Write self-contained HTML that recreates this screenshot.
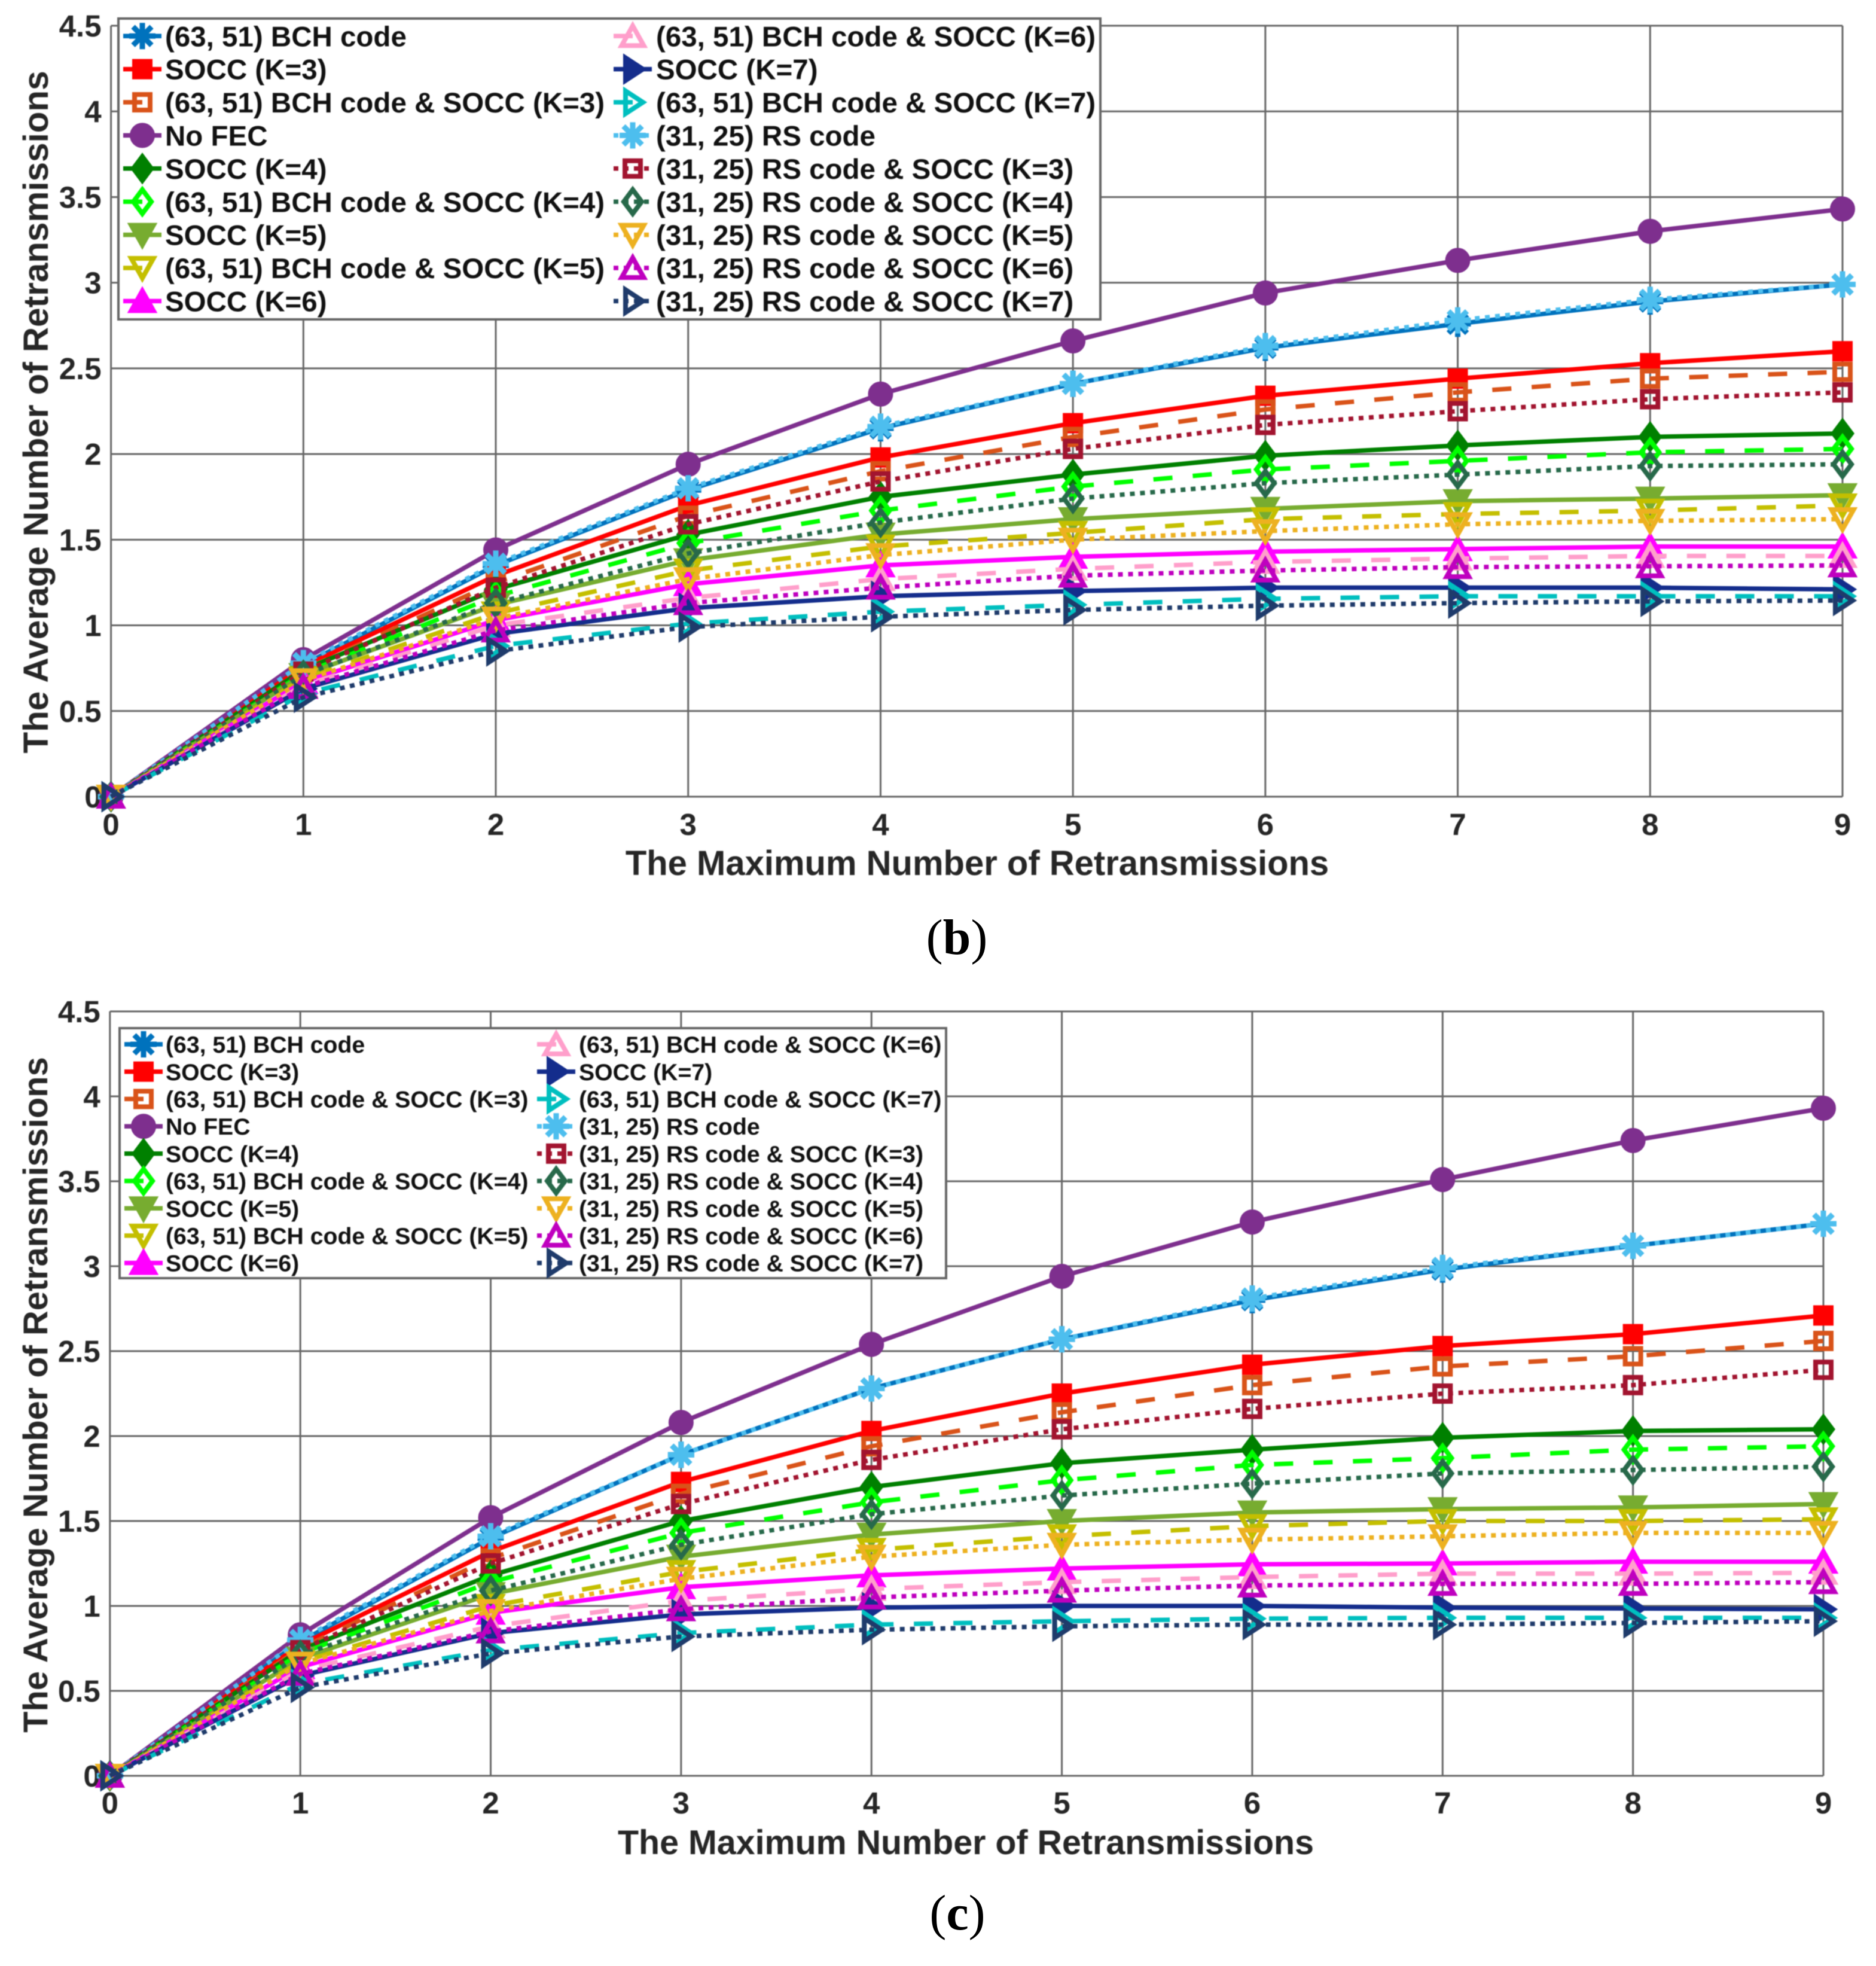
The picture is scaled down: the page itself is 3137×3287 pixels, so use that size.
<!DOCTYPE html>
<html lang="en">
<head>
<meta charset="utf-8">
<title>Average Number of Retransmissions vs Maximum Number of Retransmissions</title>
<style>
html,body{margin:0;padding:0;background:#fff;width:3137px;height:3287px;overflow:hidden}
svg{display:block}
text{font-family:"Liberation Sans",sans-serif}
.tick{font-size:51px;font-weight:700;fill:#262626}
.title{font-weight:700;fill:#262626}
.caption{font-family:"Liberation Serif",serif;font-size:84px;fill:#000}
.soft{filter:blur(.9px)}
</style>
</head>
<body>
<svg id="figure" xmlns="http://www.w3.org/2000/svg" width="3137" height="3287" viewBox="0 0 3137 3287">
  <rect width="3137" height="3287" fill="#fff"/>
  <g id="panel-b" class="soft"></g>
  <text class="caption" x="1600" y="1595" text-anchor="middle">(<tspan font-weight="700">b</tspan>)</text>
  <g id="panel-c" class="soft"></g>
  <text class="caption" x="1601" y="3226" text-anchor="middle">(<tspan font-weight="700">c</tspan>)</text>
</svg>
<script>
const retransmissions = [0, 1, 2, 3, 4, 5, 6, 7, 8, 9];
const yTicks = [0, 0.5, 1, 1.5, 2, 2.5, 3, 3.5, 4, 4.5];
const yTickLabels = ['0', '0.5', '1', '1.5', '2', '2.5', '3', '3.5', '4', '4.5'];
const seriesNames = [
  '(63, 51) BCH code', 'SOCC (K=3)', '(63, 51) BCH code & SOCC (K=3)', 'No FEC', 'SOCC (K=4)',
  '(63, 51) BCH code & SOCC (K=4)', 'SOCC (K=5)', '(63, 51) BCH code & SOCC (K=5)', 'SOCC (K=6)',
  '(63, 51) BCH code & SOCC (K=6)', 'SOCC (K=7)', '(63, 51) BCH code & SOCC (K=7)', '(31, 25) RS code',
  '(31, 25) RS code & SOCC (K=3)', '(31, 25) RS code & SOCC (K=4)', '(31, 25) RS code & SOCC (K=5)',
  '(31, 25) RS code & SOCC (K=6)', '(31, 25) RS code & SOCC (K=7)'
];

/* Panel (b) values */
const bBch       = [0, .77, 1.35, 1.79, 2.15, 2.41, 2.62, 2.76, 2.89, 2.99];
const bSocc3     = [0, .76, 1.29, 1.70, 1.98, 2.18, 2.34, 2.44, 2.53, 2.60];
const bBchSocc3  = [0, .74, 1.25, 1.64, 1.90, 2.10, 2.26, 2.36, 2.44, 2.48];
const bNoFec     = [0, .80, 1.44, 1.94, 2.35, 2.66, 2.94, 3.13, 3.30, 3.43];
const bSocc4     = [0, .74, 1.21, 1.53, 1.75, 1.88, 1.99, 2.05, 2.10, 2.12];
const bBchSocc4  = [0, .72, 1.17, 1.48, 1.67, 1.81, 1.91, 1.96, 2.01, 2.03];
const bSocc5     = [0, .71, 1.12, 1.38, 1.53, 1.62, 1.68, 1.725, 1.74, 1.76];
const bBchSocc5  = [0, .69, 1.07, 1.32, 1.46, 1.54, 1.62, 1.65, 1.67, 1.70];
const bSocc6     = [0, .67, 1.03, 1.24, 1.35, 1.40, 1.43, 1.445, 1.46, 1.46];
const bBchSocc6  = [0, .65, 1.00, 1.16, 1.27, 1.33, 1.37, 1.39, 1.405, 1.405];
const bSocc7     = [0, .63, .95, 1.10, 1.17, 1.20, 1.22, 1.22, 1.22, 1.21];
const bBchSocc7  = [0, .60, .88, 1.01, 1.08, 1.12, 1.155, 1.17, 1.17, 1.17];
const bRs        = [0, .78, 1.36, 1.80, 2.16, 2.41, 2.63, 2.78, 2.90, 2.99];
const bRsSocc3   = [0, .73, 1.22, 1.59, 1.84, 2.03, 2.17, 2.25, 2.32, 2.36];
const bRsSocc4   = [0, .71, 1.13, 1.42, 1.60, 1.74, 1.83, 1.88, 1.93, 1.94];
const bRsSocc5   = [0, .68, 1.04, 1.27, 1.41, 1.50, 1.55, 1.59, 1.61, 1.62];
const bRsSocc6   = [0, .64, .97, 1.13, 1.22, 1.29, 1.32, 1.34, 1.345, 1.35];
const bRsSocc7   = [0, .58, .85, .99, 1.05, 1.09, 1.115, 1.13, 1.14, 1.145];

/* Panel (c) values */
const cBch       = [0, .79, 1.40, 1.89, 2.28, 2.57, 2.80, 2.98, 3.12, 3.25];
const cSocc3     = [0, .77, 1.32, 1.73, 2.03, 2.25, 2.42, 2.53, 2.60, 2.71];
const cBchSocc3  = [0, .75, 1.28, 1.66, 1.94, 2.14, 2.30, 2.41, 2.47, 2.56];
const cNoFec     = [0, .83, 1.52, 2.08, 2.54, 2.94, 3.26, 3.51, 3.74, 3.93];
const cSocc4     = [0, .74, 1.18, 1.50, 1.70, 1.84, 1.92, 1.99, 2.03, 2.04];
const cBchSocc4  = [0, .72, 1.14, 1.43, 1.61, 1.74, 1.83, 1.87, 1.92, 1.94];
const cSocc5     = [0, .69, 1.07, 1.29, 1.42, 1.50, 1.55, 1.57, 1.58, 1.60];
const cBchSocc5  = [0, .67, 1.00, 1.20, 1.33, 1.41, 1.47, 1.50, 1.50, 1.51];
const cSocc6     = [0, .64, .96, 1.11, 1.18, 1.22, 1.245, 1.25, 1.26, 1.26];
const cBchSocc6  = [0, .62, .88, 1.03, 1.10, 1.14, 1.17, 1.19, 1.19, 1.195];
const cSocc7     = [0, .59, .84, .95, .99, 1.00, 1.00, .99, .985, .98];
const cBchSocc7  = [0, .54, .74, .84, .89, .91, .925, .93, .93, .93];
const cRs        = [0, .80, 1.41, 1.89, 2.28, 2.57, 2.81, 2.99, 3.12, 3.25];
const cRsSocc3   = [0, .74, 1.25, 1.60, 1.86, 2.04, 2.16, 2.25, 2.30, 2.39];
const cRsSocc4   = [0, .71, 1.09, 1.36, 1.54, 1.65, 1.72, 1.78, 1.80, 1.82];
const cRsSocc5   = [0, .66, .97, 1.16, 1.29, 1.36, 1.39, 1.41, 1.43, 1.43];
const cRsSocc6   = [0, .60, .85, .98, 1.05, 1.09, 1.12, 1.13, 1.13, 1.14];
const cRsSocc7   = [0, .52, .72, .82, .86, .88, .89, .89, .90, .91];

const panelBValues = [bBch, bSocc3, bBchSocc3, bNoFec, bSocc4, bBchSocc4, bSocc5, bBchSocc5, bSocc6, bBchSocc6, bSocc7, bBchSocc7, bRs, bRsSocc3, bRsSocc4, bRsSocc5, bRsSocc6, bRsSocc7];
const panelCValues = [cBch, cSocc3, cBchSocc3, cNoFec, cSocc4, cBchSocc4, cSocc5, cBchSocc5, cSocc6, cBchSocc6, cSocc7, cBchSocc7, cRs, cRsSocc3, cRsSocc4, cRsSocc5, cRsSocc6, cRsSocc7];

const NS = 'http://www.w3.org/2000/svg';
const seriesStyle = [
  {c:'#0072BD', d:'solid',  m:'star',  f:1},
  {c:'#FF0000', d:'solid',  m:'square',f:1},
  {c:'#D95319', d:'dash',   m:'square',f:0},
  {c:'#7E2F8E', d:'solid',  m:'circle',f:1},
  {c:'#008000', d:'solid',  m:'diamond',f:1},
  {c:'#00FF00', d:'dash',   m:'diamond',f:0},
  {c:'#77AC30', d:'solid',  m:'down',  f:1},
  {c:'#C4BF00', d:'dash',   m:'down',  f:0},
  {c:'#FF00FF', d:'solid',  m:'up',    f:1},
  {c:'#FF9FCB', d:'dash',   m:'up',    f:0},
  {c:'#142D8C', d:'solid',  m:'right', f:1},
  {c:'#00BFBF', d:'dash',   m:'right', f:0},
  {c:'#4DBEEE', d:'dot',    m:'star',  f:1},
  {c:'#A2142F', d:'dot',    m:'square',f:0},
  {c:'#27694A', d:'dot',    m:'diamond',f:0},
  {c:'#EDB120', d:'dot',    m:'down',  f:0},
  {c:'#BF00BF', d:'dot',    m:'up',    f:0},
  {c:'#1F3B6B', d:'dot',    m:'right', f:0}
];
const dashes = {solid:'', dash:'32 34', dot:'8 9'};

function slug(s){return s.toLowerCase().replace(/[^a-z0-9]+/g,'-').replace(/^-|-$/g,'');}

function drawMarker(parent, kind, filled, color, px, py){
  let el;
  if(kind==='circle'){
    el=document.createElementNS(NS,'circle');
    el.setAttribute('cx',px);el.setAttribute('cy',py);el.setAttribute('r',17);
  } else if(kind==='square'){
    el=document.createElementNS(NS,'rect');
    el.setAttribute('x',px-13);el.setAttribute('y',py-13);el.setAttribute('width',26);el.setAttribute('height',26);
  } else if(kind==='star'){
    el=document.createElementNS(NS,'path');
    const a=22,b=15.5;
    el.setAttribute('d','M'+px+' '+(py-a)+'V'+(py+a)+'M'+(px-a)+' '+py+'H'+(px+a)+'M'+(px-b)+' '+(py-b)+'L'+(px+b)+' '+(py+b)+'M'+(px-b)+' '+(py+b)+'L'+(px+b)+' '+(py-b));
  } else {
    const shapes={
      diamond:[[0,-20],[15,0],[0,20],[-15,0]],
      up:[[0,-17],[18.5,16],[-18.5,16]],
      down:[[0,17],[18.5,-16],[-18.5,-16]],
      right:[[17,0],[-12,19],[-12,-19]]
    };
    el=document.createElementNS(NS,'polygon');
    el.setAttribute('points',shapes[kind].map(function(p){return (px+p[0])+','+(py+p[1]);}).join(' '));
  }
  el.setAttribute('fill',(filled&&kind!=='star')?color:'none');
  el.setAttribute('stroke',color);
  el.setAttribute('stroke-width',kind==='star'?9:8);
  
  
  parent.appendChild(el);
}

function drawPanel(root, opts, values){
  const xAxis=function(v){return opts.x0+(opts.x9-opts.x0)*v/9;};
  const yAxis=function(v){return opts.y0+(opts.yTop-opts.y0)*v/4.5;};

  const grid=document.createElementNS(NS,'g');
  
  
  root.appendChild(grid);
  retransmissions.forEach(function(v){
    const ln=document.createElementNS(NS,'line');
    ln.setAttribute('x1',xAxis(v));ln.setAttribute('x2',xAxis(v));
    ln.setAttribute('y1',yAxis(0));ln.setAttribute('y2',yAxis(4.5));
    ln.setAttribute('stroke','#666');ln.setAttribute('stroke-width',3);
    
    
    grid.appendChild(ln);
    const t=document.createElementNS(NS,'text');
    t.setAttribute('class','tick');
    t.setAttribute('x',xAxis(v));t.setAttribute('y',opts.xTickY);
    t.setAttribute('text-anchor','middle');
    t.textContent=String(v);
    
    
    root.appendChild(t);
  });
  yTicks.forEach(function(v,i){
    const ln=document.createElementNS(NS,'line');
    ln.setAttribute('x1',xAxis(0));ln.setAttribute('x2',xAxis(9));
    ln.setAttribute('y1',yAxis(v));ln.setAttribute('y2',yAxis(v));
    ln.setAttribute('stroke','#666');ln.setAttribute('stroke-width',3);
    
    
    grid.appendChild(ln);
    const t=document.createElementNS(NS,'text');
    t.setAttribute('class','tick');
    t.setAttribute('x',xAxis(0)-16);t.setAttribute('y',yAxis(v)+18);
    t.setAttribute('text-anchor','end');
    t.textContent=yTickLabels[i];
    
    
    root.appendChild(t);
  });

  const xt=document.createElementNS(NS,'text');
  xt.setAttribute('class','title');
  xt.setAttribute('font-size',opts.xTitleFont);
  xt.setAttribute('x',opts.xTitleX);xt.setAttribute('y',opts.xTitleY);
  xt.setAttribute('text-anchor','middle');
  xt.textContent='The Maximum Number of Retransmissions';
  
  
  root.appendChild(xt);

  const yt=document.createElementNS(NS,'text');
  yt.setAttribute('class','title');
  yt.setAttribute('font-size',opts.yTitleFont);
  yt.setAttribute('text-anchor','middle');
  yt.setAttribute('transform','translate('+opts.yTitleX+' '+opts.yTitleY+') rotate(-90)');
  yt.textContent='The Average Number of Retransmissions';
  
  
  root.appendChild(yt);

  values.forEach(function(vals,i){
    const st=seriesStyle[i];
    const g=document.createElementNS(NS,'g');
    
    
    root.appendChild(g);
    const pl=document.createElementNS(NS,'polyline');
    pl.setAttribute('points',vals.map(function(v,k){return xAxis(retransmissions[k])+','+yAxis(v);}).join(' '));
    pl.setAttribute('fill','none');
    pl.setAttribute('stroke',st.c);
    pl.setAttribute('stroke-width',7.5);
    if(dashes[st.d]) pl.setAttribute('stroke-dasharray',dashes[st.d]);
    
    
    g.appendChild(pl);
    vals.forEach(function(v,k){
      drawMarker(g,st.m,st.f,st.c,xAxis(retransmissions[k]),yAxis(v));
    });
  });

  const lg=document.createElementNS(NS,'g');
  
  
  root.appendChild(lg);
  const box=document.createElementNS(NS,'rect');
  box.setAttribute('x',opts.lgX);box.setAttribute('y',opts.lgY);
  box.setAttribute('width',opts.lgW);box.setAttribute('height',opts.lgH);
  box.setAttribute('fill','#fff');box.setAttribute('stroke','#666');box.setAttribute('stroke-width',4);
  
  
  lg.appendChild(box);
  seriesNames.forEach(function(name,i){
    const st=seriesStyle[i];
    const col=i<9?0:1;
    const row=i%9;
    const cy=opts.lgRow0+row*opts.lgRowH;
    const e=document.createElementNS(NS,'g');
    
    
    lg.appendChild(e);
    const ln=document.createElementNS(NS,'line');
    ln.setAttribute('x1',opts.lgMarkerX[col]-32);ln.setAttribute('x2',opts.lgMarkerX[col]+32);
    ln.setAttribute('y1',cy);ln.setAttribute('y2',cy);
    ln.setAttribute('stroke',st.c);ln.setAttribute('stroke-width',7.5);
    if(dashes[st.d]) ln.setAttribute('stroke-dasharray',dashes[st.d]);
    
    
    e.appendChild(ln);
    drawMarker(e,st.m,st.f,st.c,opts.lgMarkerX[col],cy);
    const t=document.createElementNS(NS,'text');
    t.setAttribute('x',opts.lgTextX[col]);
    t.setAttribute('y',cy+opts.lgFont*0.36);
    t.setAttribute('font-size',opts.lgFont);
    t.setAttribute('font-weight','700');
    t.setAttribute('fill','#111');
    t.textContent=name;
    
    
    e.appendChild(t);
  });
}

drawPanel(document.getElementById('panel-b'),{
  x0:185.6,x9:3081,y0:1332,yTop:43,xTickY:1396,xTitleX:1634,xTitleY:1463,xTitleFont:58,yTitleX:80,yTitleY:689,yTitleFont:58.4,
  lgX:198,lgY:31,lgW:1642,lgH:503,lgRow0:60.2,lgRowH:55.4,lgMarkerX:[238,1058],lgTextX:[276,1097],lgFont:47.5
},panelBValues);

drawPanel(document.getElementById('panel-c'),{
  x0:183.8,x9:3049,y0:2969,yTop:1691,xTickY:3032,xTitleX:1615,xTitleY:3100,xTitleFont:57.4,yTitleX:79,yTitleY:2332,yTitleFont:57.8,
  lgX:200,lgY:1719,lgW:1382,lgH:418,lgRow0:1746,lgRowH:45.7,lgMarkerX:[240,930],lgTextX:[277,968],lgFont:39.2
},panelCValues);
</script>
</body>
</html>
